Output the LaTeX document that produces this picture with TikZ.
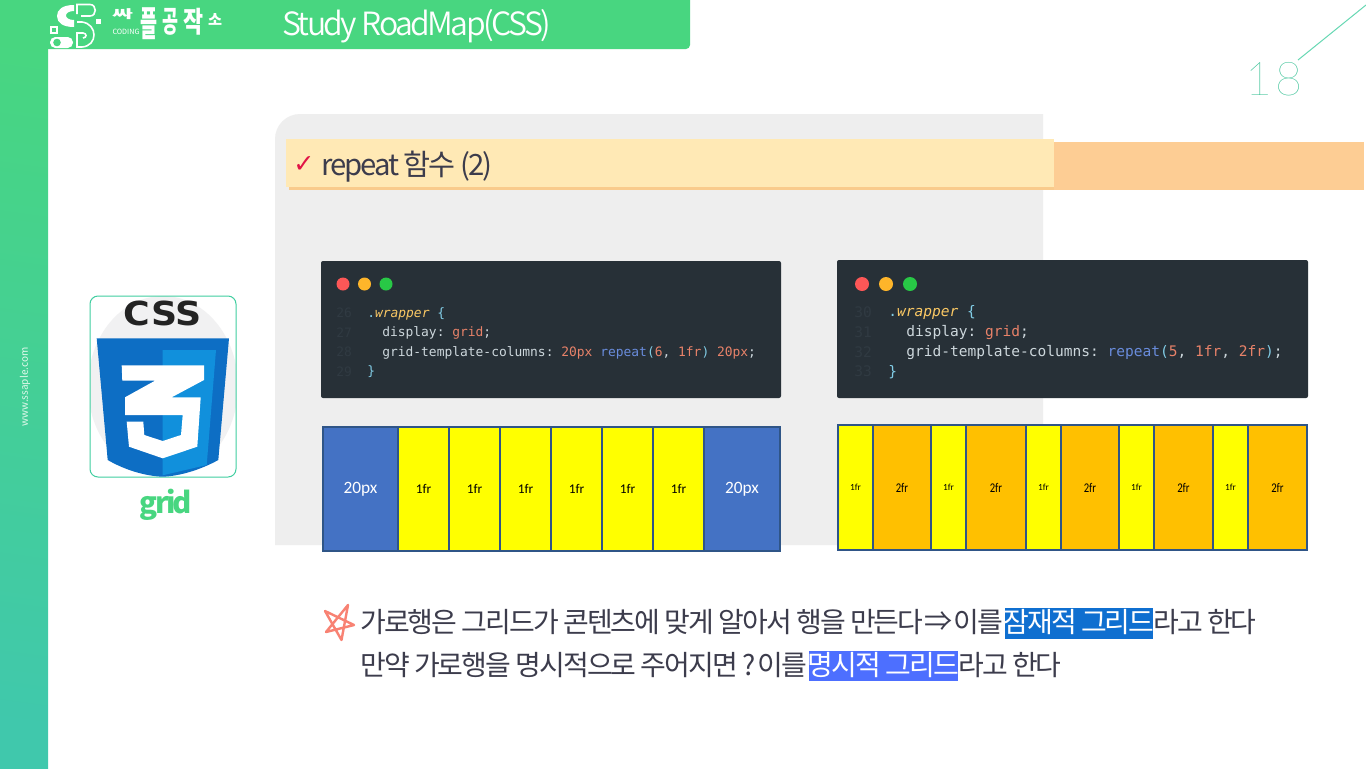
\documentclass[tikz,border=0pt]{standalone}
\usepackage{graphicx}
\usepackage{fontspec}
\setmainfont{Noto Sans CJK KR}
\setmonofont{DejaVu Sans Mono}
\newfontfamily\krfont{Noto Sans CJK KR}[LetterSpace=-7]
\newfontfamily\gridfont{Noto Sans CJK KR}[LetterSpace=-9]
\newfontfamily\titlefont{Noto Sans CJK KR DemiLight}[LetterSpace=-8]
\newfontfamily\cellfont{Carlito}
\newfontfamily\symfont{DejaVu Sans}
\newfontfamily\numfont{Lato Thin}[LetterSpace=6]
\definecolor{ssgreen}{RGB}{72,214,128}
\definecolor{ssteal}{RGB}{64,206,160}
\definecolor{sideteal}{RGB}{64,200,172}
\definecolor{sspanel}{RGB}{238,238,238}
\definecolor{ssink}{RGB}{60,60,76}
\definecolor{codebg}{RGB}{39,48,55}
\definecolor{codeno}{RGB}{48,58,66}
\definecolor{codegray}{RGB}{205,215,220}
\definecolor{codeyellow}{RGB}{250,200,100}
\definecolor{codecyan}{RGB}{130,205,230}
\definecolor{codered}{RGB}{232,130,105}
\definecolor{codeblue}{RGB}{105,140,220}
\definecolor{cellblue}{RGB}{68,114,196}
\definecolor{cellyellow}{RGB}{255,255,0}
\definecolor{cellorange}{RGB}{255,192,0}
\definecolor{celledge}{RGB}{47,85,135}
\newcommand{\cgray}[1]{\textcolor{codegray}{#1}}
\newcommand{\cyel}[1]{\textcolor{codeyellow}{#1}}
\newcommand{\ccyan}[1]{\textcolor{codecyan}{#1}}
\newcommand{\cred}[1]{\textcolor{codered}{#1}}
\newcommand{\cblu}[1]{\textcolor{codeblue}{#1}}
\newcommand{\tallfr}[1]{\scalebox{0.8}[1]{#1}}
\begin{document}
\begin{tikzpicture}[x=0.75pt,y=0.75pt,yscale=-1,xscale=1,
  bluecell/.style={draw=celledge,line width=2pt,fill=cellblue},
  yellowcell/.style={draw=celledge,line width=2pt,fill=cellyellow},
  orangecell/.style={draw=celledge,line width=2pt,fill=cellorange},
  brandglyph/.style={inner sep=0pt,text=white,font=\bfseries\fontsize{18}{20}\selectfont},
  codeline/.style={anchor=west,inner sep=0pt,font=\ttfamily\fontsize{9.7}{11}\selectfont},
  codelineb/.style={anchor=west,inner sep=0pt,font=\ttfamily\fontsize{10.9}{12}\selectfont},
  bodytext/.style={anchor=west,inner sep=0pt,text=ssink,font=\krfont\fontsize{21}{24}\selectfont}]
\useasboundingbox (0,0) rectangle (1366,768);
\fill [white] (0,0) rectangle (1366,768);
%Shape: Side bar
\shade [shading=axis,top color=ssgreen,bottom color=sideteal,shading angle=-8] (0,0) rectangle (48,768);
%Shape: Header bar
\fill [ssgreen] (48,0) -- (690,0) -- (690,45) arc[start angle=0,end angle=90,radius=4] -- (48,49) -- cycle;
%Shape: Logo
\fill [white] (74,5) .. controls (62,5) and (57,10) .. (57,16) .. controls (57,23) and (63,27) .. (74,27) -- (74,20) .. controls (69,20) and (66,18) .. (66,15.5) .. controls (66,13) and (69,11) .. (74,11) -- cycle;
\draw [white,line width=1.2pt] (77,14) -- (77,4.5) -- (90,4.5) .. controls (97,4.5) and (97,16) .. (90,16) -- (81,16);
\draw [white,line width=1.2pt] (77,22) -- (82,22) .. controls (98,24) and (98,46) .. (82,47) -- (77,47) -- (77,33) -- (83,33) .. controls (87,33) and (87,38) .. (83,38);
\fill [white] (96,19) rectangle (101,24);
\draw [white,line width=1pt] (51,27) rectangle (57,33);
\fill [white,rounded corners=4pt] (50,37) rectangle (73,48);
\fill [ssgreen] (57,42.5) circle [radius=3.8];
% Text Node
\draw (122.5,14.5) node (branda) [brandglyph] {\resizebox*{15.75pt}{8.25pt}{싸}};
\draw (148.5,24) node (brandb) [brandglyph] {\resizebox*{12.75pt}{24pt}{플}};
\draw (170,21.5) node (brandc) [brandglyph] {\resizebox*{12pt}{20.25pt}{공}};
\draw (193,21.5) node (brandd) [brandglyph] {\resizebox*{15pt}{20.25pt}{작}};
\draw (215,19) node (brande) [brandglyph] {\resizebox*{10.5pt}{9pt}{소}};
% Text Node
\draw (126,32) node (coding) [inner sep=0pt] [text=white] [font=\fontsize{5.4}{6}\selectfont] {CODING};
% Text Node
\draw (282,26) node (title) [anchor=west] [inner sep=0pt] [text=white] [font=\titlefont\fontsize{24}{28}\selectfont] {Study RoadMap(CSS)};
% Text Node
\draw (25,387) node (site) [rotate=90] [inner sep=0pt] [text=white!85!ssgreen] [font=\fontsize{7.5}{8}\selectfont] {www.ssaple.com};
% Text Node
\draw (1274,79) node (page) [inner sep=0pt] [text={rgb, 255:red, 30; green, 185; blue, 135}] [font=\numfont\fontsize{35}{40}\selectfont] {18};
\coordinate (pagetop) at (1366,5);
\coordinate (pagelow) at (1298,60);
\draw [color=ssteal!80,line width=0.75pt] (pagelow) -- (pagetop);
%Shape: Panel
\fill [sspanel] (275,545) -- (275,139) arc[start angle=180,end angle=270,radius=25] -- (1043,114) -- (1043,545) -- cycle;
%Shape: Heading bars
\fill [color={rgb, 255:red, 253; green, 205; blue, 148}] (1054,142) rectangle (1364,190);
\fill [color={rgb, 255:red, 249; green, 203; blue, 140}] (289,142) rectangle (1054,190);
\fill [color={rgb, 255:red, 255; green, 233; blue, 181}] (286,139) rectangle (1054,187);
% Text Node
\draw (304,165) node (tick) [inner sep=0pt] [text={rgb, 255:red, 225; green, 20; blue, 70}] [font=\symfont\fontsize{19}{20}\selectfont] {✓};
% Text Node
\draw (321,167) node (heading) [anchor=west] [inner sep=0pt] [text=ssink] [font=\krfont\fontsize{22}{26}\selectfont] {repeat 함수 (2)};
%Shape: Css logo
\begin{scope}
\clip [rounded corners=6pt] (90,296) rectangle (236,477);
\fill [color={rgb, 255:red, 241; green, 241; blue, 242}] (163,386) ellipse [x radius=75,y radius=90];
\end{scope}
\draw [color=ssteal,line width=0.75pt,rounded corners=6pt] (90,296) rectangle (236,477);
\fill [color={rgb, 255:red, 13; green, 110; blue, 196}] (96.7,338.3) -- (229,338.3) -- (218.3,460) .. controls (200,470) and (180,476) .. (162.7,476.7) .. controls (145,476) and (125,470) .. (107.7,460) -- cycle;
\fill [color={rgb, 255:red, 17; green, 144; blue, 220}] (162.7,350) -- (216,350) -- (206.7,465) -- (162.7,475.3) -- cycle;
\fill [white] (121.7,365.3) -- (204,365.3) -- (204,380) -- (171.7,397.3) -- (200.7,397.3) -- (197.3,446.7) -- (162.7,458.3) -- (129,446.7) -- (126.7,421.7) -- (143.3,421.7) -- (144.3,435) -- (162.7,441) -- (181,435) -- (182.7,415) -- (125,415) -- (125,397.3) -- (155,380.7) -- (122.3,380.7) -- cycle;
% Text Node
\draw (163,313.5) node (cssmark) [inner sep=0pt] [text={rgb, 255:red, 35; green, 35; blue, 35}] [font=\symfont\bfseries] {\resizebox*{58.5pt}{18.75pt}{CSS}};
% Text Node
\draw (166,505) node (gridname) [inner sep=0pt] [text=ssgreen] [font=\gridfont\bfseries\fontsize{22}{26}\selectfont] {grid};
%Shape: Left code box
\fill [codebg,rounded corners=1.5pt] (321,261) rectangle (781,398);
\fill [color={rgb, 255:red, 253; green, 87; blue, 87}] (343,284) circle [radius=6.5];
\fill [color={rgb, 255:red, 254; green, 181; blue, 42}] (364.5,284) circle [radius=6.5];
\fill [color={rgb, 255:red, 40; green, 200; blue, 70}] (386,284) circle [radius=6.5];
% Text Node
\draw (336,313) node (lno1) [codeline] {\textcolor{codeno}{26}};
\draw (336,332.5) node (lno2) [codeline] {\textcolor{codeno}{27}};
\draw (336,352) node (lno3) [codeline] {\textcolor{codeno}{28}};
\draw (336,371.5) node (lno4) [codeline] {\textcolor{codeno}{29}};
\draw (367,313.5) node (lcode1) [codeline] {\ccyan{.}\cyel{\itshape wrapper} \ccyan{\{}};
\draw (382,333) node (lcode2) [codeline] {\cgray{display:} \cred{grid}\cgray{;}};
\draw (382,352.5) node (lcode3) [codeline] {\cgray{grid-template-columns:} \cred{20px} \cblu{repeat}\ccyan{(}\cred{6}\cgray{,} \cred{1fr}\ccyan{)} \cred{20px}\cgray{;}};
\draw (367,372) node (lcode4) [codeline] {\ccyan{\}}};
%Shape: Right code box
\fill [codebg,rounded corners=1.5pt] (837,260) rectangle (1308,398);
\fill [color={rgb, 255:red, 253; green, 87; blue, 87}] (862,284) circle [radius=7];
\fill [color={rgb, 255:red, 254; green, 181; blue, 42}] (886,284) circle [radius=7];
\fill [color={rgb, 255:red, 40; green, 200; blue, 70}] (910,284) circle [radius=7];
% Text Node
\draw (854,312) node (rno1) [codelineb] {\textcolor{codeno}{30}};
\draw (854,332) node (rno2) [codelineb] {\textcolor{codeno}{31}};
\draw (854,352) node (rno3) [codelineb] {\textcolor{codeno}{32}};
\draw (854,371.5) node (rno4) [codelineb] {\textcolor{codeno}{33}};
\draw (888,312.5) node (rcode1) [codelineb] {\ccyan{.}\cyel{\itshape wrapper} \ccyan{\{}};
\draw (906,332.5) node (rcode2) [codelineb] {\cgray{display:} \cred{grid}\cgray{;}};
\draw (906,352.5) node (rcode3) [codelineb] {\cgray{grid-template-columns:} \cblu{repeat}\ccyan{(}\cred{5}\cgray{,} \cred{1fr}\cgray{,} \cred{2fr}\ccyan{)}\cgray{;}};
\draw (888,372) node (rcode4) [codelineb] {\ccyan{\}}};
%Shape: Left cells
\begin{scope}[every node/.style={font=\cellfont\fontsize{10}{12}\selectfont}]
\draw [bluecell] (323,427) rectangle node (la) [text=white,font=\cellfont\fontsize{13}{15}\selectfont] {20px} (398,551);
\draw [yellowcell] (398,427) rectangle node (lb) {1fr} (449,551);
\draw [yellowcell] (449,427) rectangle node (lc) {1fr} (500,551);
\draw [yellowcell] (500,427) rectangle node (ld) {1fr} (551,551);
\draw [yellowcell] (551,427) rectangle node (le) {1fr} (602,551);
\draw [yellowcell] (602,427) rectangle node (lf) {1fr} (653,551);
\draw [yellowcell] (653,427) rectangle node (lg) {1fr} (704,551);
\draw [bluecell] (704,427) rectangle node (lh) [text=white,font=\cellfont\fontsize{13}{15}\selectfont] {20px} (780,551);
\end{scope}
%Shape: Right cells
\begin{scope}[every node/.style={font=\cellfont\fontsize{7}{10}\selectfont}]
\draw [yellowcell] (838,425) rectangle node (ra) {1fr} (873,550);
\draw [orangecell] (873,425) rectangle node (rb) [font=\cellfont\fontsize{10}{12}\selectfont] {\tallfr{2fr}} (931,550);
\draw [yellowcell] (931,425) rectangle node (rc) {1fr} (966,550);
\draw [orangecell] (966,425) rectangle node (rd) [font=\cellfont\fontsize{10}{12}\selectfont] {\tallfr{2fr}} (1026,550);
\draw [yellowcell] (1026,425) rectangle node (re) {1fr} (1061,550);
\draw [orangecell] (1061,425) rectangle node (rf) [font=\cellfont\fontsize{10}{12}\selectfont] {\tallfr{2fr}} (1119,550);
\draw [yellowcell] (1119,425) rectangle node (rg) {1fr} (1154,550);
\draw [orangecell] (1154,425) rectangle node (rh) [font=\cellfont\fontsize{10}{12}\selectfont] {\tallfr{2fr}} (1213,550);
\draw [yellowcell] (1213,425) rectangle node (ri) {1fr} (1248,550);
\draw [orangecell] (1248,425) rectangle node (rj) [font=\cellfont\fontsize{10}{12}\selectfont] {\tallfr{2fr}} (1307,550);
\end{scope}
%Shape: Star
\draw [color={rgb, 255:red, 248; green, 130; blue, 115},line width=1.8pt,line join=round] (348,605) -- (341.5,640) -- (325,611) -- (354,625) -- (326,632) -- cycle;
%Shape: Highlights
\fill [color={rgb, 255:red, 15; green, 111; blue, 208}] (1005,608) rectangle (1153,639);
\fill [color={rgb, 255:red, 77; green, 111; blue, 255}] (809,651) rectangle (958,681);
% Text Node
\draw (360,622) node (rowa) [bodytext] {가로행은 그리드가 콘텐츠에 맞게 알아서 행을 만든다};
\draw (924,622) node (rowarrow) [bodytext] {⇒};
\draw (953,622) node (rowthis) [bodytext] {이를};
\draw (1079,622) node (marka) [bodytext,anchor=center,text=white] {잠재적 그리드};
\draw (1153,622) node (taila) [bodytext] {라고 한다};
\draw (360,665) node (rowb) [bodytext] {만약 가로행을 명시적으로 주어지면 ?};
\draw (757,665) node (rowbthis) [bodytext] {이를};
\draw (883.5,665) node (markb) [bodytext,anchor=center,text=white] {명시적 그리드};
\draw (958,665) node (tailb) [bodytext] {라고 한다};
\end{tikzpicture}
\end{document}
